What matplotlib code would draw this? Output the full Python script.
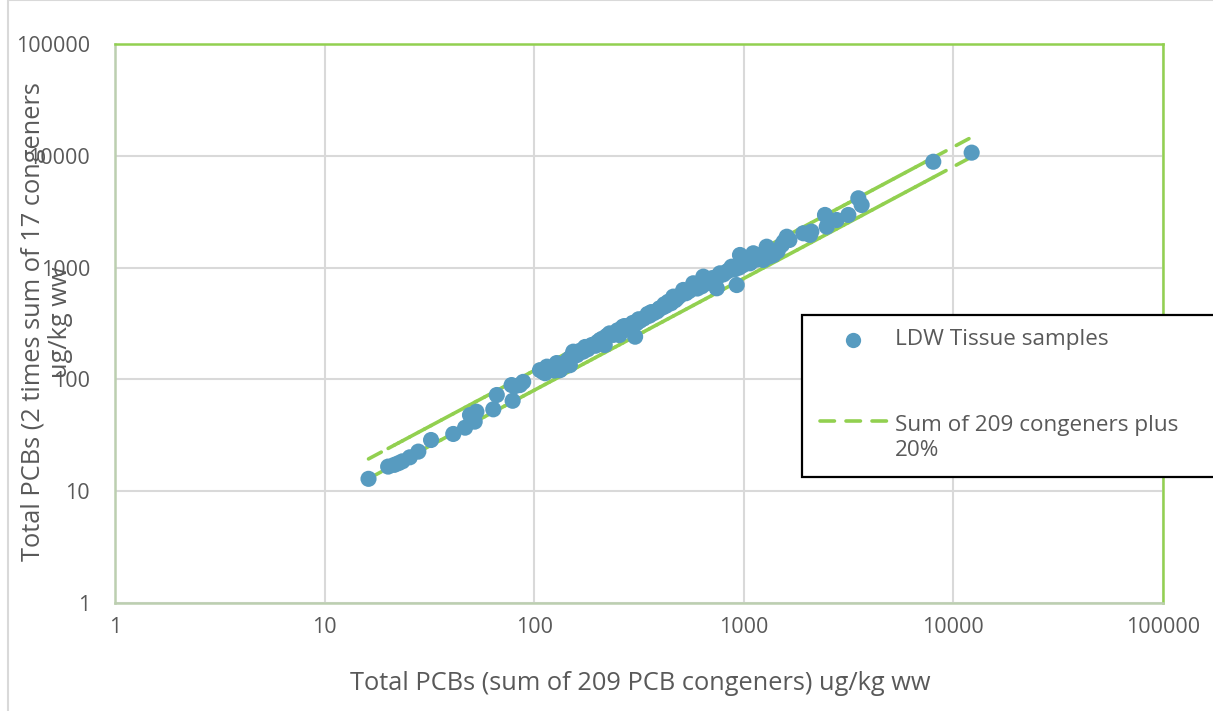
import matplotlib
matplotlib.use("Agg")
import matplotlib.pyplot as plt
from matplotlib.collections import LineCollection
from matplotlib.lines import Line2D
from matplotlib.patches import Rectangle
import matplotlib.ticker as ticker

plt.rcParams['font.family'] = ['Open Sans', 'DejaVu Sans']

# Total PCBs, sum of 209 congeners (ug/kg ww)
sum209 = [16.2, 20.1, 21.5, 22.5, 23.5, 25.5, 28, 32.2, 41.1, 46.8, 49.4, 52, 53, 63.8, 66.3,
          78.9, 78, 81, 85.5, 88.6, 106.6, 110, 112.6, 118, 125, 132.8, 140, 148, 150, 153.6,
          160, 171, 180, 188, 196, 206, 212, 217, 229, 238, 245, 255, 265, 275, 285, 303, 308,
          320, 333, 342, 355, 370, 385, 396, 410, 425, 436, 450, 461, 480, 495, 514, 530, 550,
          574, 600, 620, 641, 660, 680, 700, 743, 770, 800, 830, 875, 900, 925, 959, 990, 1010,
          1040, 1070, 1110, 1150, 1200, 1238, 1286, 1330, 1383, 1450, 1520, 1603, 1650, 1923,
          2070, 2100, 2440, 2488, 2773, 3153, 3519, 3650, 8017, 12220,
          115, 128, 145, 165, 175, 200, 222, 250, 270, 295, 315, 348, 362, 392, 418, 445, 470,
          505, 540, 590, 630, 650, 690, 720, 760, 850, 950, 1030, 1090, 1170, 1260, 1550]

# Total PCBs, 2 times sum of 17 congeners (ug/kg ww)
sum17x2 = [12.9, 16.6, 17.2, 17.8, 18.5, 20.1, 22.6, 28.7, 32.5, 37, 48, 41.9, 51.4, 54, 72.5,
           64.4, 89, 87, 89, 95, 121, 117, 113.6, 124, 120, 121, 132, 134, 159, 177,
           165, 177, 186, 203, 200, 225, 232, 203, 258, 250, 262, 249, 296, 282, 300, 241, 318,
           335, 350, 364, 372, 390, 405, 432, 440, 455, 495, 480, 550, 530, 560, 631, 590, 620,
           724, 650, 700, 830, 720, 760, 800, 653, 889, 870, 920, 1019, 960, 698, 1297, 1050, 1120,
           1200, 1092, 1343, 1180, 1220, 1169, 1538, 1260, 1297, 1400, 1600, 1889, 1766, 2028,
           1959, 2100, 2958, 2323, 2665, 2958, 4168, 3630, 8850, 10670,
           130, 140, 150, 180, 195, 215, 245, 275, 300, 320, 345, 385, 400, 420, 470, 490, 510,
           580, 610, 690, 680, 760, 740, 810, 840, 950, 1000, 1150, 1200, 1290, 1330, 1700]

# x values of the two reference line series
line_x = [16.2, 20.1, 21.5, 22.5, 23.5, 25.5, 28, 30, 32.2, 36, 41.1, 46.8, 49.4, 52, 53, 58,
          63.8, 66.3, 72, 78, 81, 85.5, 88.6, 95, 100, 106.6, 112.6, 118, 125, 132.8, 140, 148,
          153.6, 160, 171, 180, 188, 196, 206, 217, 229, 245, 255, 265, 285, 308, 333, 355, 385,
          410, 436, 461, 495, 530, 574, 620, 660, 700, 743, 800, 875, 925, 990, 1070, 1150,
          1238, 1330, 1450, 1603, 1800, 1923, 2100, 2300, 2488, 2773, 3000, 3153, 3519, 3650,
          4100, 4600, 5200, 5900, 6600, 7300, 8017, 12220]
plus20 = [v * 1.2 for v in line_x]
minus20 = [v * 0.8 for v in line_x]

W, H = 1213, 711
blue = '#579bc0'
green = '#92d050'
txt = '#595959'


def fx(px):
    return px / W


def fy(py):
    return 1 - py / H


def segments(xs, ys):
    pts = list(zip(xs, ys))
    return [[pts[i], pts[i + 1]] for i in range(len(pts) - 1)]


fig = plt.figure(figsize=(W / 100, H / 100), dpi=100)
fig.add_artist(Rectangle((fx(8), fy(900)), fx(1400), 900 / H, transform=fig.transFigure,
                         fill=False, edgecolor='#d9d9d9', linewidth=1.5))

ax = fig.add_axes([fx(115), fy(603), fx(1163) - fx(115), fy(44) - fy(603)])
ax.set_xscale('log')
ax.set_yscale('log')
ax.set_xlim(1, 100000)
ax.set_ylim(1, 100000)

# dashed reference lines, dash pattern restarts on every segment
for ys in (plus20, minus20):
    lc = LineCollection(segments(line_x, ys), colors=green, linewidths=2.6,
                        linestyles=[(0, (4.0, 3.2))], capstyle='round', zorder=2)
    ax.add_collection(lc)

ax.scatter(sum209, sum17x2, s=135, color=blue, edgecolors='none', zorder=3)

ax.grid(True, which='major', color='#d9d9d9', linewidth=1.5)
ax.set_axisbelow(True)
ax.xaxis.set_major_locator(ticker.LogLocator(base=10, numticks=10))
ax.yaxis.set_major_locator(ticker.LogLocator(base=10, numticks=10))
ax.xaxis.set_minor_locator(ticker.NullLocator())
ax.yaxis.set_minor_locator(ticker.NullLocator())
ax.xaxis.set_major_formatter(ticker.FuncFormatter(lambda v, p: f'{v:.0f}'))
ax.yaxis.set_major_formatter(ticker.FuncFormatter(lambda v, p: f'{v:.0f}'))
ax.tick_params(axis='both', length=0, labelsize=15.5, labelcolor=txt)
ax.tick_params(axis='y', pad=18)
ax.tick_params(axis='x', pad=10)

for side in ('top', 'right'):
    ax.spines[side].set_color(green)
for side in ('left', 'bottom'):
    ax.spines[side].set_color('#bccfb0')
for sp in ax.spines.values():
    sp.set_linewidth(1.8)

fig.text(fx(640), fy(683), 'Total PCBs (sum of 209 PCB congeners) ug/kg ww', ha='center',
         va='center', fontsize=18.3, color=txt)
fig.text(fx(47), fy(322), 'Total PCBs (2 times sum of 17 congeners\nug/kg ww', ha='center',
         va='center', rotation=90, multialignment='center', fontsize=18.3, color=txt,
         linespacing=1.1)

# legend box, running past the right edge of the chart
fig.add_artist(Rectangle((fx(802), fy(477)), fx(500), (477 - 315) / H, transform=fig.transFigure,
                         facecolor='white', edgecolor='black', linewidth=1.6, zorder=5))
fig.add_artist(Line2D([fx(853)], [fy(340)], marker='o', markersize=11, color=blue,
                      markeredgecolor='none', linestyle='none', transform=fig.transFigure, zorder=6))
fig.add_artist(Line2D([fx(820), fx(887)], [fy(421), fy(421)], color=green, linewidth=2.6,
                      linestyle=(0, (4.0, 3.2)), dash_capstyle='round', transform=fig.transFigure,
                      zorder=6))
fig.text(fx(895), fy(340), 'LDW Tissue samples', ha='left', va='center', fontsize=16.2,
         color=txt, zorder=7)
fig.text(fx(895), fy(438), 'Sum of 209 congeners plus\n20%', ha='left', va='center',
         fontsize=16.2, color=txt, linespacing=1.3, zorder=7)

fig.savefig('out.png', dpi=100)
